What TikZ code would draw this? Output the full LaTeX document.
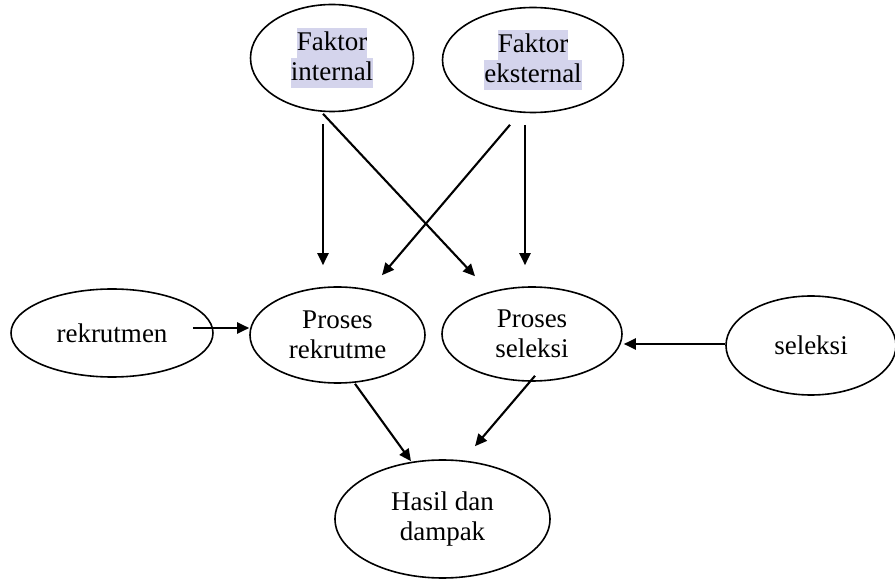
\documentclass[tikz,border=0pt]{standalone}
\usepackage{fontspec}
\setmainfont{Liberation Serif}
\usetikzlibrary{shapes.geometric, arrows.meta}
\definecolor{hilite}{RGB}{212,212,236}
\newcommand{\hl}[1]{{\setlength{\fboxsep}{0pt}\colorbox{hilite}{\rule[-7.5pt]{0pt}{29.5pt}#1}}}

\begin{document}
\begin{tikzpicture}[x=1pt, y=1pt] %1 unit = 1 pixel of the page
\tikzstyle{every node} = [ellipse, draw, line width=1.6pt, inner sep=0pt, align=center, font=\fontsize{27}{30}\selectfont]
\tikzstyle{arr} = [line width=2.1pt, -{Triangle[length=12pt, width=11pt]}]
\useasboundingbox (0,0) rectangle (895,587);
\node[minimum width=163, minimum height=107] (fi) at (332, 529) {\hl{Faktor}\\\hl{internal}};
\node[minimum width=181, minimum height=105] (fe) at (533, 527) {\hl{Faktor}\\\hl{eksternal}};
\node[minimum width=202, minimum height=88] (rk) at (112, 254) {rekrutmen};
\node[minimum width=175, minimum height=96] (pr) at (337.5, 252) {Proses\\rekrutme};
\node[minimum width=180, minimum height=94] (ps) at (532, 253) {Proses\\seleksi};
\node[minimum width=170, minimum height=99] (sl) at (811, 241.5) {seleksi};
\node[minimum width=215, minimum height=118] (hd) at (442.5, 68) {Hasil dan\\dampak};
% faktor -> proses
\draw[arr] ([xshift=-9pt, yshift=-12pt]fi.south) -- ([xshift=-14.5pt, yshift=21pt]pr.north);
\draw[arr] ([xshift=-9pt, yshift=-1.5pt]fi.south) -- ([xshift=-57pt, yshift=10pt]ps.north);
\draw[arr] ([xshift=-23pt, yshift=-11.5pt]fe.south) -- ([xshift=44.5pt, yshift=11pt]pr.north);
\draw[arr] ([xshift=-8pt, yshift=-11.5pt]fe.south) -- ([xshift=-7pt, yshift=21pt]ps.north);
% sides
\draw[arr] ([xshift=-21pt, yshift=5pt]rk.east) -- ([yshift=7pt]pr.west);
\draw[arr] ([yshift=1.5pt]sl.west) -- ([xshift=1pt, yshift=-10pt]ps.east);
% proses -> hasil
\draw[arr] ([xshift=17.5pt]pr.south) -- ([xshift=-31.5pt, yshift=-2pt]hd.north);
\draw[arr] ([xshift=3pt, yshift=6pt]ps.south) -- ([xshift=32.5pt, yshift=13pt]hd.north);
\end{tikzpicture}
\end{document}
